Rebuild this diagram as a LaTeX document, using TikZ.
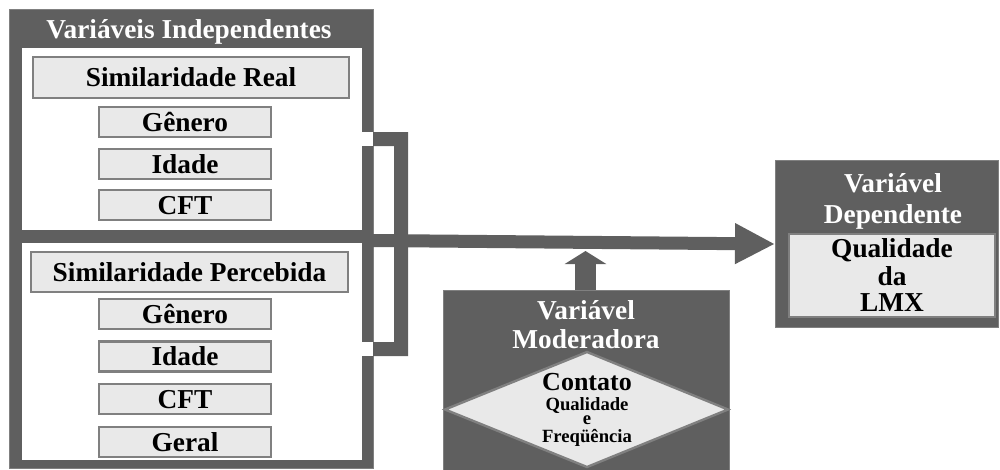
\documentclass[tikz,border=0pt]{standalone}
\usepackage{fontspec}
\setmainfont{Liberation Serif}[BoldFont={Liberation Serif Bold}]
\newfontfamily\tnr{Liberation Serif Bold}
\usetikzlibrary{arrows.meta}
\definecolor{dk}{RGB}{95,95,95}
\definecolor{lt}{RGB}{233,233,233}
\definecolor{bd}{RGB}{128,128,128}
\tikzset{
  big/.style={fill=dk, draw=bd, line width=0.6pt},
  panel/.style={fill=white, draw=none},
  itembox/.style={fill=lt, draw=bd, line width=1.9pt, inner sep=0pt,
     font=\tnr\fontsize{20.5}{24}\selectfont, text height=13.5pt, text depth=0pt},
  wtitle/.style={text=white, inner sep=0pt, anchor=base, font=\tnr\fontsize{20.5}{24}\selectfont},
  btext/.style={text=black, inner sep=0pt, anchor=base, font=\tnr\fontsize{20.5}{24}\selectfont},
  stext/.style={text=black, inner sep=0pt, anchor=base, font=\tnr\fontsize{14}{15}\selectfont},
  fatarrow/.style={draw=dk, line width=9.75pt, -{Triangle[length=30pt,width=28.5pt]}},
  uparrow/.style={draw=dk, line width=15.75pt, -{Triangle[length=9.75pt,width=30.75pt]}},
}
\begin{document}
\begin{tikzpicture}[x=0.75pt,y=-0.75pt]
\useasboundingbox (0,0) rectangle (1000,469);
\begin{scope}
\clip (0,0) rectangle (1000,469);
% left block
\path[big] (9,9) rectangle (373,468);
\path[panel] (22,48) rectangle (362,230);
\path[panel] (22,243) rectangle (362,460);
\path[panel] (362,132) rectangle (373,146);
\path[panel] (362,342) rectangle (373,356);
\node[wtitle] (ti) at (189,38) {Variáveis Independentes};
\node[itembox, minimum width=237pt, minimum height=30.75pt] (sr) at (191,77.5) {Similaridade Real};
\node[itembox, minimum width=129pt, minimum height=22.5pt] (g1) at (185,122) {Gênero};
\node[itembox, minimum width=129pt, minimum height=22.5pt] (i1) at (185,164) {Idade};
\node[itembox, minimum width=129pt, minimum height=22.5pt] (c1) at (185,205) {CFT};
\node[itembox, minimum width=237.75pt, minimum height=30pt] (sp) at (189.5,272) {Similaridade Percebida};
\node[itembox, minimum width=129pt, minimum height=22.5pt] (g2) at (185,314) {Gênero};
\node[itembox, minimum width=129pt, minimum height=22.5pt] (i2) at (185,356.5) {Idade};
\node[itembox, minimum width=129pt, minimum height=22.5pt] (c2) at (185,399) {CFT};
\node[itembox, minimum width=129pt, minimum height=22.5pt] (ge) at (185,442) {Geral};
% bracket
\fill[dk] (373,132) -- (408,132) -- (408,356) -- (373,356) -- (373,342) -- (394,342) -- (394,146) -- (373,146) -- cycle;
% dependent block
\path[big] (775,160) rectangle (998,327);
\node[wtitle] (dv1) at (893,192) {Variável};
\node[wtitle] (dv2) at (893,223) {Dependente};
\node[fill=lt, draw=bd, line width=1.5pt, minimum width=154.5pt, minimum height=62.25pt, inner sep=0pt] (lmx) at (892,275.5) {};
\node[btext] (dq1) at (892,257) {Qualidade};
\node[btext] (dq2) at (892,285) {da};
\node[btext] (dq3) at (892,311) {LMX};
% moderator block
\path[big] (443,290) rectangle (729,475);
\node[wtitle] (mv1) at (586,319) {Variável};
\node[wtitle] (mv2) at (586,348) {Moderadora};
\filldraw[fill=lt, draw=bd, line width=1.8pt] (445,409.5) -- (587,352) -- (728,409.5) -- (587,467) -- cycle;
\node[btext, font=\tnr\fontsize{19.5}{20}\selectfont] (mc1) at (587,390) {Contato};
\node[stext] (mc2) at (587,410) {Qualidade};
\node[stext] (mc3) at (587,424) {e};
\node[stext] (mc4) at (587,442) {Freqüência};
% connectors
\coordinate (aS) at (373,240.5);
\coordinate (aT) at (775,244);
\draw[fatarrow] (aS) -- (aT);
\coordinate (uS) at (585.5,290);
\coordinate (uT) at (585.5,251);
\draw[uparrow] (uS) -- (uT);
\end{scope}
\end{tikzpicture}
\end{document}
